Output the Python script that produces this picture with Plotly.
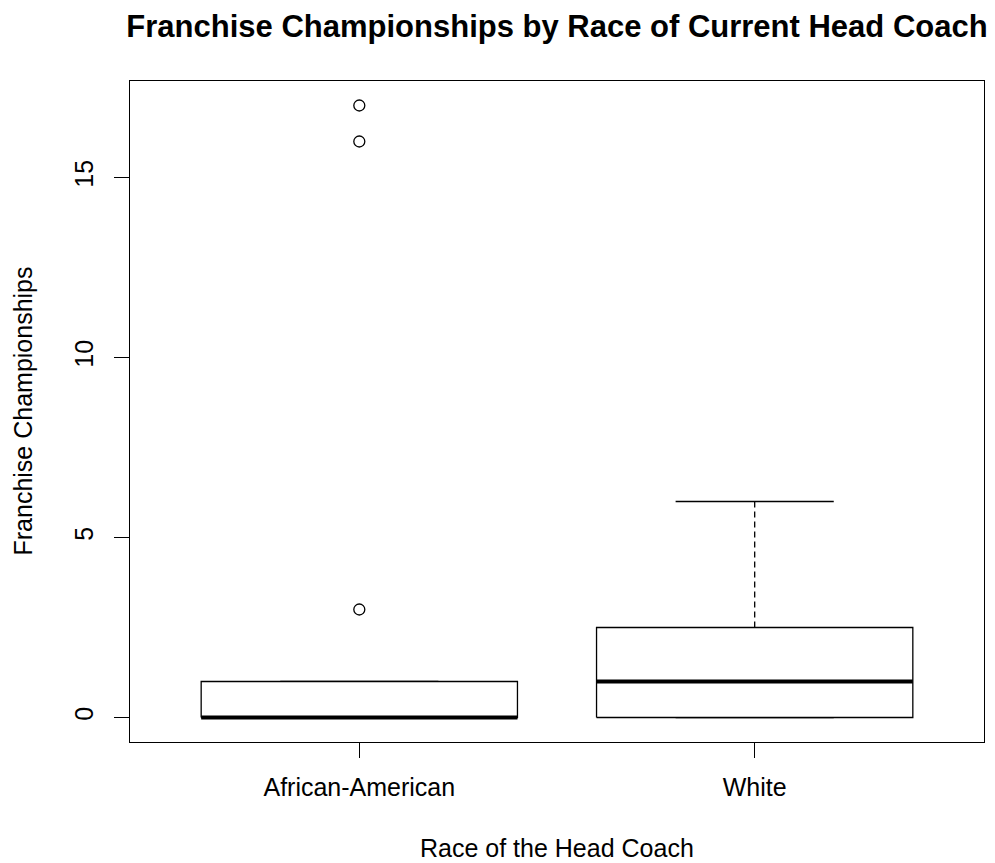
import plotly.graph_objects as go

# ---- data ----
categories = ["African-American", "White"]
positions = [1, 2]
q1 = [0, 0]
median = [0, 1]
q3 = [1, 2.5]
whisker_low = [0, 0]
whisker_high = [1, 6]
outliers = [[3, 16, 17], []]
y_ticks = [0, 5, 10, 15]

BOXW = 0.4      # half box width (boxwex 0.8)
STAPLE = 0.2    # half staple width
FONT = "Liberation Sans, Arial, sans-serif"
LW = 1.3

fig = go.Figure()

for i, pos in enumerate(positions):
    # dashed whiskers
    fig.add_trace(go.Scatter(
        x=[pos, pos, None, pos, pos],
        y=[q3[i], whisker_high[i], None, q1[i], whisker_low[i]],
        mode="lines", line=dict(color="black", width=LW, dash="6px,4px"),
        hoverinfo="skip", showlegend=False))
    # staples
    fig.add_trace(go.Scatter(
        x=[pos - STAPLE, pos + STAPLE, None, pos - STAPLE, pos + STAPLE],
        y=[whisker_high[i], whisker_high[i], None, whisker_low[i], whisker_low[i]],
        mode="lines", line=dict(color="black", width=LW),
        hoverinfo="skip", showlegend=False))
    # box
    fig.add_trace(go.Scatter(
        x=[pos - BOXW, pos + BOXW, pos + BOXW, pos - BOXW, pos - BOXW],
        y=[q1[i], q1[i], q3[i], q3[i], q1[i]],
        mode="lines", fill="toself", fillcolor="white",
        line=dict(color="black", width=LW),
        hoverinfo="skip", showlegend=False))
    # median
    fig.add_trace(go.Scatter(
        x=[pos - BOXW, pos + BOXW], y=[median[i], median[i]],
        mode="lines", line=dict(color="black", width=4.2),
        hoverinfo="skip", showlegend=False))
    # outliers
    if outliers[i]:
        fig.add_trace(go.Scatter(
            x=[pos] * len(outliers[i]), y=outliers[i], mode="markers",
            marker=dict(symbol="circle-open", size=11, color="black",
                        line=dict(width=LW, color="black")),
            showlegend=False))

fig.update_layout(
    width=995, height=863,
    margin=dict(l=130, r=11, t=81, b=121),
    paper_bgcolor="white", plot_bgcolor="white",
    font=dict(family=FONT, size=25, color="black"),
    title=dict(text="<b>Franchise Championships by Race of Current Head Coach</b>",
               x=0.5, xref="paper", xanchor="center",
               y=1 - 26 / 863, yref="container", yanchor="middle",
               font=dict(family=FONT, size=31, color="black")),
    showlegend=False,
)

fig.update_xaxes(
    range=[0.42, 2.58], tickvals=positions, ticktext=categories,
    showgrid=False, zeroline=False,
    showline=True, mirror=True, linecolor="black", linewidth=LW,
    ticks="outside", ticklen=15, tickcolor="black", tickwidth=LW,
    ticklabelstandoff=8,
    tickfont=dict(size=25, color="black"),
)
fig.update_yaxes(
    range=[-0.68, 17.68], tickvals=y_ticks, ticktext=[str(v) for v in y_ticks],
    tickangle=-90,
    showgrid=False, zeroline=False,
    showline=True, mirror=True, linecolor="black", linewidth=LW,
    ticks="outside", ticklen=15, tickcolor="black", tickwidth=LW,
    ticklabelstandoff=11,
    tickfont=dict(size=25, color="black"),
)

fig.add_annotation(text="Race of the Head Coach", xref="paper", yref="paper",
                   x=0.5, y=0, yshift=-106, xanchor="center", yanchor="middle",
                   showarrow=False, font=dict(size=25, color="black"))
fig.add_annotation(text="Franchise Championships", xref="paper", yref="paper",
                   x=0, y=0.5, xshift=-108, xanchor="center", yanchor="middle",
                   textangle=-90, showarrow=False, font=dict(size=25, color="black"))

fig.write_html("out.html")
